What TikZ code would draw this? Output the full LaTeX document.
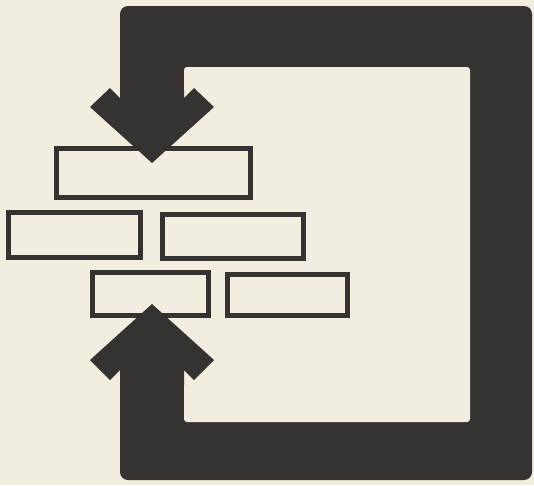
\documentclass[tikz,border=0pt]{standalone}
\usetikzlibrary{positioning}
\definecolor{paper}{HTML}{F1EDDF}
\definecolor{ink}{HTML}{343331}
\tikzset{
  box/.style={draw=ink, fill=paper, line width=5pt, inner sep=0pt},
}
\begin{document}
\begin{tikzpicture}[x=1pt, y=-1pt]
  % Sheet
  \fill[paper] (0,0) rectangle (534,485);
  \useasboundingbox (0,0) rectangle (534,485);

  % Thick loop: outer block, then the hollow inside
  \fill[ink, rounded corners=8pt] (120,6) rectangle (532,480);
  \fill[paper, rounded corners=3pt] (184,67) rectangle (470,422);
  \fill[paper] (110,98) rectangle (184,370);

  % Boxes
  \node[box, minimum width=194pt, minimum height=49pt] (top) at (153.5,173) {};
  \node[box, minimum width=132pt, minimum height=45pt] (midleft) at (74.5,235) {};
  \node[box, minimum width=141pt, minimum height=44pt] (midright) at (233,236.5) {};
  \node[box, minimum width=116pt, minimum height=43pt] (lowleft) at (150.5,294) {};
  \node[box, minimum width=120pt, minimum height=41pt] (lowright) at (287.5,295) {};

  % Arrow heads
  \fill[ink] (152,163) -- (90,107) -- (110,88) -- (120,98) -- (120,90)
    -- (184,90) -- (184,98) -- (194,88) -- (214,107) -- cycle;
  \fill[ink] (152,304) -- (90,360) -- (110,380) -- (120,370) -- (120,385)
    -- (184,385) -- (184,370) -- (194,380) -- (214,360) -- cycle;
\end{tikzpicture}
\end{document}
